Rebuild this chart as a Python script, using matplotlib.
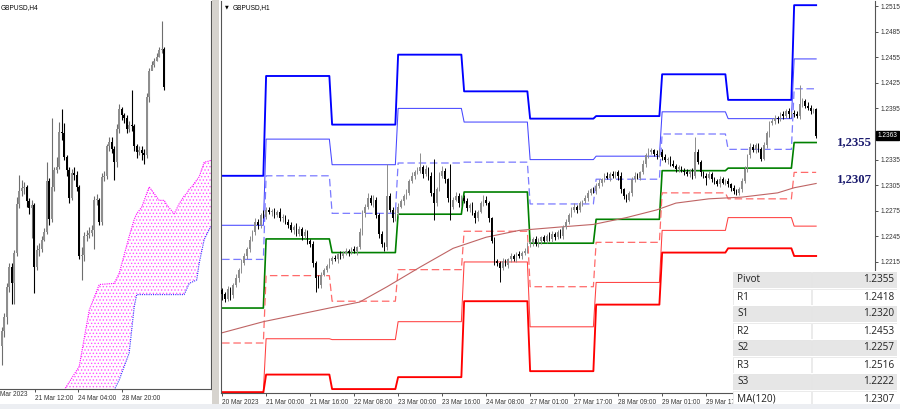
import numpy as np
import matplotlib
matplotlib.use("Agg")
import matplotlib.pyplot as plt
from matplotlib.patches import Rectangle
import matplotlib.transforms as mtrans

# ---------------- data : H1 panel (GBPUSD,H1) ----------------
h1_close = [
    2178, 2172, 2183, 2176, 2188, 2196, 2205, 2214, 2222, 2230, 2241, 2250, 2262, 2258, 2270, 2268,
    2276, 2273, 2275, 2270, 2274, 2266, 2268, 2262, 2258, 2252, 2256, 2248, 2254, 2246, 2250, 2240,
    2236, 2214, 2196, 2188, 2200, 2206, 2210, 2216,
    2220, 2218, 2224, 2222, 2226, 2228, 2226, 2230, 2228, 2232, 2250, 2272, 2280, 2290, 2284, 2288,
    2270, 2248, 2236, 2232, 2292, 2276, 2266, 2272,
    2280, 2286, 2292, 2296, 2310, 2316, 2320, 2322, 2326, 2318, 2324, 2316, 2296, 2284, 2300, 2316,
    2322, 2312, 2290, 2280, 2288, 2292, 2284, 2290,
    2286, 2278, 2282, 2272, 2266, 2274, 2284, 2288, 2284, 2266, 2240, 2216, 2214, 2208, 2216, 2212,
    2218, 2222, 2218, 2224, 2222, 2226, 2228, 2236,
    2238, 2242, 2236, 2240, 2244, 2240, 2246, 2242, 2248, 2244, 2250, 2246, 2256, 2262, 2270, 2276,
    2280, 2276, 2284, 2286, 2290, 2296, 2300, 2298,
    2304, 2308, 2312, 2316, 2314, 2318, 2316, 2320, 2316, 2300, 2292, 2288, 2296, 2312, 2316, 2314,
    2320, 2330, 2340, 2344, 2346, 2342, 2340, 2344,
    2338, 2334, 2336, 2330, 2328, 2324, 2326, 2322, 2320, 2318, 2322, 2316, 2344, 2332, 2320, 2316,
    2314, 2318, 2312, 2310, 2306, 2312, 2308, 2310,
    2306, 2302, 2298, 2296, 2300, 2310, 2324, 2340, 2350, 2346, 2352, 2348, 2336, 2352, 2366, 2378,
    2380, 2384, 2382, 2388, 2386, 2392, 2388, 2390,
    2388, 2386, 2400, 2404, 2398, 2396, 2392, 2394, 2363,
]
h1_first_open = 2182
h1_upper_wick = [
    3, 2, 4, 3, 2, 5, 3, 4, 3, 2, 4, 3, 5, 3, 2, 6,
    4, 3, 2, 3, 2, 4, 3, 2, 3, 4, 2, 5, 3, 2, 4, 3, 2, 3, 2, 4, 3, 2, 3, 4,
    2, 3, 2, 4, 2, 3, 2, 3, 4, 2, 5, 4, 3, 6, 4, 5, 3, 2, 3, 2, 38, 4, 3, 5,
    4, 3, 3, 5, 2, 4, 3, 4, 17, 3, 5, 2, 4, 40, 3, 4, 6, 3, 2, 40, 3, 5, 4, 3,
    3, 4, 2, 3, 4, 2, 3, 5, 4, 3, 2, 4, 3, 2, 4, 3, 2, 3, 2, 3, 4, 2, 3, 2,
    3, 2, 4, 3, 2, 3, 2, 4, 3, 2, 3, 4, 2, 3, 2, 3, 4, 2, 3, 2, 4, 3, 2, 3,
    3, 4, 2, 3, 5, 3, 4, 2, 3, 4, 2, 3, 2, 3, 4, 3, 2, 4, 3, 5, 3, 2, 4, 3,
    4, 3, 2, 3, 4, 2, 3, 2, 3, 4, 2, 3, 18, 4, 3, 2, 3, 4, 2, 3, 2, 4, 3, 2,
    3, 2, 3, 2, 3, 4, 3, 2, 4, 3, 2, 3, 2, 4, 3, 2, 4, 3, 2, 3, 4, 2, 3, 2,
    3, 4, 22, 3, 2, 4, 3, 2, 2,
]
h1_lower_wick = [
    8, 4, 3, 5, 3, 2, 4, 3, 2, 4, 3, 2, 3, 4, 3, 2,
    3, 2, 4, 3, 2, 3, 4, 2, 3, 2, 4, 3, 2, 5, 3, 4, 3, 5, 16, 4, 3, 2, 3, 2,
    3, 2, 4, 3, 2, 3, 4, 2, 3, 5, 2, 3, 4, 3, 2, 4, 3, 5, 3, 4, 3, 2, 4, 3,
    3, 2, 4, 3, 2, 3, 4, 2, 3, 4, 2, 5, 4, 20, 3, 2, 3, 4, 5, 16, 3, 2, 4, 3,
    2, 3, 4, 2, 5, 3, 2, 3, 2, 4, 3, 5, 4, 17, 3, 2, 4, 3, 2, 3, 2, 4, 3, 2,
    3, 4, 2, 3, 4, 2, 3, 2, 4, 3, 2, 3, 4, 2, 3, 2, 3, 4, 2, 3, 2, 4, 3, 2,
    3, 2, 4, 3, 2, 4, 3, 2, 5, 4, 3, 3, 2, 4, 3, 2, 3, 2, 4, 3, 2, 3, 4, 2,
    3, 2, 4, 3, 2, 3, 4, 2, 3, 2, 3, 4, 3, 2, 4, 3, 9, 2, 3, 4, 2, 3, 2, 3,
    3, 4, 3, 3, 2, 3, 2, 4, 3, 2, 3, 4, 3, 2, 3, 4, 2, 3, 4, 2, 3, 2, 4, 3,
    3, 2, 4, 3, 2, 3, 4, 2, 3,
]

# daily pivot levels (20,21,22,23,24,27,28,29,30,31 Mar)
day_bars = [16, 24, 24, 24, 24, 24, 24, 24, 24, 9]
lvl_R3 = [1.2316, 1.2433, 1.2376, 1.2458, 1.2415, 1.2383, 1.2386, 1.2435, 1.2405, 1.2516]
lvl_R2 = [1.2258, 1.2359, 1.2329, 1.2395, 1.2379, 1.2335, 1.2339, 1.2391, 1.2383, 1.2453]
lvl_R1 = [1.2218, 1.2316, 1.2272, 1.2331, 1.2332, 1.2283, 1.2312, 1.2365, 1.2347, 1.2418]
lvl_P = [1.2161, 1.2242, 1.2226, 1.2271, 1.2297, 1.2237, 1.2265, 1.2322, 1.2325, 1.2355]
lvl_S1 = [1.2120, 1.2199, 1.2169, 1.2206, 1.2251, 1.2186, 1.2238, 1.2296, 1.2289, 1.2320]
lvl_S2 = [1.2063, 1.2125, 1.2124, 1.2145, 1.2215, 1.2139, 1.2191, 1.2252, 1.2267, 1.2257]
lvl_S3 = [1.2062, 1.2083, 1.2066, 1.2080, 1.2169, 1.2087, 1.2165, 1.2226, 1.2231, 1.2222]

ma_bar = [0, 15, 39, 50, 60, 72, 84, 96, 108, 123, 135, 147, 158, 165, 177, 189, 202, 208, 216]
ma_val = [1.2132, 1.2145, 1.2161, 1.2168, 1.2186, 1.2209, 1.2231, 1.2244, 1.2252, 1.2256,
          1.2259, 1.2267, 1.2276, 1.2284, 1.2289, 1.2291, 1.2296, 1.2302, 1.2307]

h1_tick_bar = [0, 16, 32, 48, 64, 80, 96, 112, 128, 144, 160, 176]
h1_tick_lab = ["20 Mar 2023", "21 Mar 00:00", "21 Mar 16:00", "22 Mar 08:00", "23 Mar 00:00",
               "23 Mar 16:00", "24 Mar 08:00", "27 Mar 01:00", "27 Mar 17:00", "28 Mar 09:00",
               "29 Mar 01:00", "29 Mar 17:"]
price_ticks = [1.2215, 1.2245, 1.2275, 1.2305, 1.2335, 1.2395, 1.2425, 1.2455, 1.2485, 1.2515]
last_price = 1.2363

# ---------------- data : H4 panel (GBPUSD,H4) ----------------
h4_close = [2146, 2158, 2185, 2203, 2188, 2215, 2259, 2270, 2273, 2274, 2261, 2255, 2258, 2203,
            2218, 2219, 2227, 2234, 2279, 2245, 2274, 2289, 2292, 2323, 2322, 2301, 2289, 2264,
            2286, 2285, 2274, 2212, 2213, 2230, 2231, 2233, 2236, 2262, 2262, 2243, 2283, 2284,
            2310, 2314, 2308, 2296, 2326, 2343, 2338, 2335, 2326, 2329, 2328, 2310, 2305, 2307,
            2304, 2302, 2354, 2377, 2383, 2386, 2390, 2396, 2397, 2363]
h4_high = [2149, 2162, 2188, 2206, 2206, 2218, 2265, 2285, 2280, 2278, 2276, 2264, 2262, 2260,
           2222, 2224, 2230, 2237, 2296, 2282, 2335, 2292, 2301, 2332, 2343, 2331, 2302, 2292,
           2290, 2292, 2288, 2276, 2220, 2234, 2236, 2238, 2240, 2266, 2268, 2264, 2286, 2288,
           2312, 2318, 2318, 2310, 2330, 2348, 2345, 2340, 2338, 2333, 2360, 2330, 2312, 2310,
           2310, 2308, 2358, 2380, 2386, 2389, 2393, 2399, 2422, 2399]
h4_low = [2115, 2140, 2152, 2180, 2170, 2170, 2212, 2255, 2266, 2268, 2256, 2250, 2228, 2179,
          2200, 2212, 2216, 2226, 2232, 2240, 2243, 2270, 2286, 2290, 2316, 2298, 2284, 2260,
          2262, 2280, 2270, 2210, 2191, 2208, 2226, 2228, 2230, 2219, 2258, 2240, 2240, 2279,
          2281, 2306, 2304, 2280, 2292, 2322, 2334, 2331, 2322, 2323, 2324, 2306, 2300, 2302,
          2298, 2294, 2300, 2350, 2378, 2381, 2386, 2390, 2393, 2360]
h4_first_open = 2132

cloud_bar = [25, 31, 35, 39, 45, 47, 51, 53, 54, 56, 59, 61, 63, 65, 66, 69, 71, 73, 74, 75, 76, 78, 79, 81, 83, 84]
cloud_up = [2093, 2114, 2164, 2187, 2188, 2197, 2230, 2245, 2250, 2256, 2274, 2268, 2262, 2262, 2258,
            2250, 2259, 2266, 2268, 2272, 2274, 2280, 2283, 2296, 2297, 2298]
cloud_lo = [2080, 2080, 2080, 2080, 2093, 2102, 2126, 2167, 2178, 2178, 2178, 2178, 2178, 2178, 2178,
            2178, 2178, 2178, 2183, 2188, 2189, 2191, 2206, 2227, 2236, 2239]
h4_tick_pos = [13.3, 30.5, 48.1]
h4_tick_lab = ["21 Mar 12:00", "24 Mar 04:00", "28 Mar 20:00"]
h4_first_lab = "Mar 2023"

# ---------------- table ----------------
tab_names = ["Pivot", "R1", "S1", "R2", "S2", "R3", "S3", "MA(120)"]
tab_values = ["1.2355", "1.2418", "1.2320", "1.2453", "1.2257", "1.2516", "1.2222", "1.2307"]

# =====================================================================
W, H = 900, 409
plt.rcParams["hatch.linewidth"] = 0.6
fig = plt.figure(figsize=(9, 4.09), dpi=100)
fig.patch.set_facecolor("white")
SMALL = dict(family="Liberation Sans", fontsize=4.7)


def fxy(px, py):
    return px / W, 1 - py / H


def pips(a):
    return 1.0 + np.asarray(a, dtype=float) / 10000.0


def draw_candles(ax, x, o, h, l, c, width, up_body, up_wick, dn_col, wlw):
    up = c >= o
    body_col = np.where(up, up_body, dn_col)
    wick_col = np.where(up, up_wick, dn_col)
    ax.vlines(x, l, h, colors=wick_col, lw=wlw, zorder=3)
    bottom = np.minimum(o, c)
    height = np.maximum(np.abs(c - o), 0.00009)
    ax.bar(x, height, width=width, bottom=bottom, color=body_col, linewidth=0, zorder=4)


# ---------------- left panel ----------------
l0, b0 = fxy(0, 389)
ax1 = fig.add_axes([l0, b0, 211 / W, 388 / H])
ax1.set_xlim(-0.68, 83.72)
ax1.set_ylim(1.20939, 1.24396)
for s in ["top", "left"]:
    ax1.spines[s].set_visible(False)
for s in ["right", "bottom"]:
    ax1.spines[s].set_color("#555555")
    ax1.spines[s].set_linewidth(0.8)
ax1.set_yticks([])
ax1.set_xticks(h4_tick_pos)
ax1.set_xticklabels(h4_tick_lab, ha="left", **SMALL)
ax1.tick_params(axis="x", length=2.5, width=0.6, pad=1.5, colors="#333333")
ax1.text(0.0, -0.006, h4_first_lab, transform=ax1.transAxes, ha="left", va="top",
         color="#333333", **SMALL)

cb = np.array(cloud_bar, dtype=float)
ax1.fill_between(cb, pips(cloud_lo), pips(cloud_up), facecolor="none", edgecolor="#ff55ff",
                 hatch=".....", linewidth=0, zorder=1)
ax1.plot(cb, pips(cloud_up), color="#ff00ff", lw=0.8, ls=(0, (1, 1)), zorder=2)
ax1.plot(cb, pips(cloud_lo), color="#3333ff", lw=0.8, ls=(0, (1, 1)), zorder=2)

c4 = pips(h4_close)
o4 = np.concatenate([[pips(h4_first_open)], c4[:-1]])
x4 = np.arange(len(c4))
draw_candles(ax1, x4, o4, pips(h4_high), pips(h4_low), c4, 0.8, "#8e8e8e", "#6e6e6e", "black", 0.8)
ax1.text(0.005, 0.992, "GBPUSD,H4", transform=ax1.transAxes, ha="left", va="top", color="black", **SMALL)

# separator between panels
fig.add_artist(Rectangle((212 / W, 0), 7 / W, 1, transform=fig.transFigure,
                         facecolor="#d6d3ce", edgecolor="none"))
fig.add_artist(Rectangle((0, 0), 1, 5 / H, transform=fig.transFigure,
                         facecolor="#eceef2", edgecolor="none"))

# ---------------- right panel ----------------
l2, b2 = fxy(221, 393)
ax2 = fig.add_axes([l2, b2, (875 - 221) / W, 392 / H])
ax2.set_xlim(-0.4, 237.4)
ax2.set_ylim(1.20614, 1.25209)
ax2.spines["top"].set_visible(False)
for s in ["left", "bottom", "right"]:
    ax2.spines[s].set_color("#555555")
    ax2.spines[s].set_linewidth(0.8)

nb = len(h1_close)
xb = np.arange(nb)
styles = [
    (lvl_R3, "#0000ff", 1.35, "-"),
    (lvl_R2, "#4646ff", 0.75, "-"),
    (lvl_R1, "#7a7aff", 0.9, (0, (6, 3))),
    (lvl_P, "#008000", 1.2, "-"),
    (lvl_S1, "#ff6a6a", 0.9, (0, (6, 3))),
    (lvl_S2, "#ff4040", 0.75, "-"),
    (lvl_S3, "#ff0000", 1.35, "-"),
]
for lv, col, lw, ls in styles:
    ax2.plot(xb, np.repeat(lv, day_bars), color=col, lw=lw, ls=ls, zorder=2)

ax2.plot(ma_bar, ma_val, color="#bf6464", lw=0.8, zorder=2)

c1 = pips(h1_close)
o1 = np.concatenate([[pips(h1_first_open)], c1[:-1]])
hi1 = np.maximum(o1, c1) + np.array(h1_upper_wick) / 10000.0
lo1 = np.minimum(o1, c1) - np.array(h1_lower_wick) / 10000.0
draw_candles(ax2, xb, o1, hi1, lo1, c1, 0.6, "#8c8c8c", "#8c8c8c", "black", 0.7)

ax2.set_xticks(h1_tick_bar)
ax2.set_xticklabels(h1_tick_lab, ha="left", **SMALL)
ax2.tick_params(axis="x", length=2.5, width=0.6, pad=1.5, colors="#333333")
ax2.yaxis.tick_right()
ax2.set_yticks(price_ticks)
ax2.set_yticklabels([f"{v:.4f}" for v in price_ticks], **SMALL)
ax2.tick_params(axis="y", length=2.5, width=0.6, pad=1.5, colors="#333333")

blend = mtrans.blended_transform_factory(ax2.transAxes, ax2.transData)
ax2.text(1.004, last_price, f"{last_price:.4f}", transform=blend, ha="left", va="center",
         color="white", bbox=dict(boxstyle="square,pad=0.18", fc="black", ec="black"),
         clip_on=False, zorder=10, **SMALL)
ax2.text(0.006, 0.992, "\u25bc", transform=ax2.transAxes, ha="left", va="top", fontsize=3.5,
         color="black")
ax2.text(0.018, 0.992, "GBPUSD,H1", transform=ax2.transAxes, ha="left", va="top", color="black", **SMALL)

for val, ytxt in [(lvl_P[-1], 1.2355), (ma_val[-1], 1.2312)]:
    ax2.text(0.942, ytxt, f"{val:.4f}".replace(".", ","), transform=blend, ha="left", va="center",
             family="Liberation Serif", fontweight="bold", fontsize=9.2, color="#1b1b6e",
             clip_on=False, zorder=9)

# ---------------- table ----------------
tl, tb = fxy(733, 407)
tab = fig.add_axes([tl, tb, 164 / W, 136 / H])
tab.set_xlim(0, 164)
tab.set_ylim(136, 0)
tab.axis("off")
for r, (nm, vv) in enumerate(zip(tab_names, tab_values)):
    y0 = r * 17
    fc = "#e6e6e6" if r % 2 == 0 else "#ffffff"
    tab.add_patch(Rectangle((0, y0), 164, 17, facecolor="white", edgecolor="none"))
    tab.add_patch(Rectangle((0, y0 + 0.5), 78, 16, facecolor=fc, edgecolor="#dcdcdc", lw=0.4))
    tab.add_patch(Rectangle((79, y0 + 0.5), 85, 16, facecolor=fc, edgecolor="#dcdcdc", lw=0.4))
    tab.text(4, y0 + 9, nm, ha="left", va="center", family="Open Sans", fontsize=7.2, color="#222222")
    tab.text(161, y0 + 9, vv, ha="right", va="center", family="Open Sans", fontsize=7.2, color="#222222")

fig.savefig("out.png", dpi=100, facecolor="white")
